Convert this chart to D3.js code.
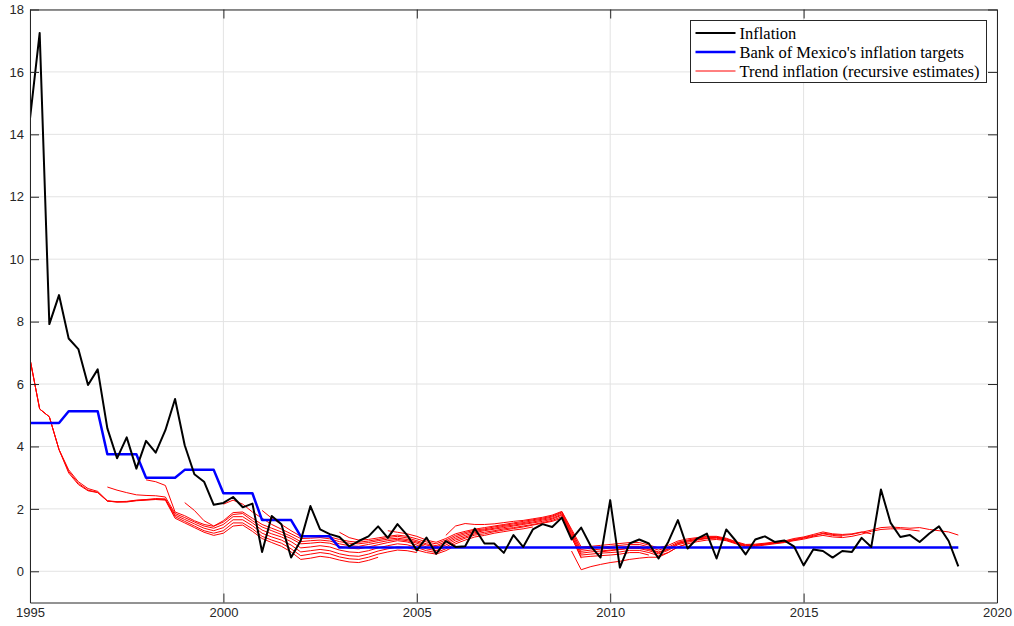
<!DOCTYPE html>
<html><head><meta charset="utf-8">
<script src="https://cdn.jsdelivr.net/npm/d3@7"></script>
<style>
html,body{margin:0;padding:0;background:#fff;}
svg{display:block;}
</style></head>
<body>
<svg id="chart" width="1014" height="626"></svg>
<script>
// ---- data (quarterly, starting 1995Q1) ----
const inflationStart = 1995.0;
const inflation = [
  14.5, 17.25, 7.92, 8.85,
  7.46, 7.12, 5.97, 6.47,
  4.58, 3.62, 4.29, 3.29,
  4.18, 3.80, 4.52, 5.52,
  4.04, 3.11, 2.87, 2.13,
  2.19, 2.38, 2.05, 2.17,
  0.62, 1.77, 1.51, 0.44,
  0.99, 2.09, 1.34, 1.19,
  1.10, 0.80, 0.97, 1.12,
  1.44, 1.07, 1.51, 1.16,
  0.67, 1.08, 0.56, 0.97,
  0.78, 0.80, 1.37, 0.89,
  0.89, 0.59, 1.16, 0.78,
  1.34, 1.51, 1.42, 1.72,
  1.02, 1.40, 0.80, 0.44,
  2.28, 0.12, 0.89, 1.02,
  0.89, 0.41, 0.94, 1.64,
  0.73, 1.05, 1.21, 0.41,
  1.34, 0.97, 0.54, 1.02,
  1.12, 0.94, 0.99, 0.80,
  0.19, 0.70, 0.65, 0.44,
  0.65, 0.62, 1.07, 0.78,
  2.62, 1.55, 1.10, 1.16,
  0.94, 1.21, 1.44, 0.97,
  0.16
];
const targetYears = [1995, 1996, 1997, 1998, 1999, 2000, 2001, 2002, 2003];
const targetValues = [4.75, 5.13, 3.75, 3.0, 3.25, 2.5, 1.64, 1.12, 0.76];
const targetEnd = 2019.0;

// recursive trend estimates: start year + quarterly values
const trend1Start = 1995.0;
const trend1 = [6.8,5.2,4.95,3.9, 3.15,2.78,2.58,2.52, 2.25,2.22,2.22,2.26, 2.28,2.3,2.28,1.7,
  1.55,1.4,1.25,1.15, 1.22,1.45,1.48,1.28, 1.05,0.92,0.8,0.62, 0.38,0.42,0.48,0.44,
  0.36,0.3,0.28,0.35, 0.45];
const trend2Start = 1995.0;
const trend2 = [6.8,5.2,4.95,3.9, 3.2,2.82,2.6,2.53, 2.25,2.22,2.23,2.27, 2.29,2.31,2.3,1.75,
  1.6,1.45,1.3,1.22, 1.3,1.55,1.55,1.36, 1.12,1.0,0.9,0.72, 0.5,0.55,0.6,0.56,
  0.46,0.4,0.38,0.45, 0.55,0.62,0.68,0.66, 0.6];
const trend3Start = 1995.0;
const trend3 = [6.8,5.2,4.95,3.9, 3.25,2.87,2.65,2.56, 2.26,2.23,2.24,2.28, 2.3,2.33,2.32,1.8,
  1.66,1.52,1.38,1.3, 1.4,1.65,1.65,1.46, 1.22,1.1,1.0,0.84, 0.62,0.66,0.7,0.66,
  0.56,0.5,0.48,0.55, 0.65,0.72,0.78,0.76, 0.68,0.6,0.55,0.66, 0.82];
const trend4Start = 1997.0;
const trend4 = [2.7,2.6,2.52,2.45, 2.43,2.42,2.38,1.85, 1.72,1.58,1.45,1.38, 1.5,1.75,1.75,1.55,
  1.32,1.2,1.1,0.95, 0.75,0.78,0.82,0.78, 0.68,0.62,0.6,0.66, 0.75,0.82,0.88,0.85,
  0.76,0.66,0.6,0.72, 0.88,1.0,1.1,1.15, 1.22,1.27,1.32,1.36, 1.42];
const trend5Start = 1998.0;
const trend5 = [2.93,2.87,2.75,1.9, 1.78,1.62,1.5,1.44, 1.58,1.82,1.85,1.62, 1.42,1.3,1.18,1.05,
  0.88,0.9,0.93,0.9, 0.8,0.74,0.72,0.78, 0.85,0.92,0.98,0.94, 0.84,0.72,0.66,0.78,
  0.94,1.06,1.16,1.2, 1.27,1.32,1.37,1.42, 1.48,1.54,1.6,1.7, 1.1,0.42];
const trend6Start = 1999.0;
const trend6 = [2.2,1.95,1.62,1.45, 1.62,1.88,1.9,1.7, 1.5,1.38,1.26,1.12, 0.95,0.98,1.0,0.97,
  0.88,0.82,0.8,0.86, 0.92,0.98,1.02,0.98, 0.9,0.78,0.72,0.84, 1.0,1.1,1.2,1.25,
  1.3,1.36,1.4,1.45, 1.5,1.56,1.63,1.75, 1.1,0.45,0.48,0.5, 0.52,0.55,0.6,0.6, 0.52];
const trend7Start = 2000.0;
const trend7 = [2.15,2.28,2.15,1.9, 1.7,1.5,1.35,1.2, 1.05,1.06,1.08,1.04, 0.95,0.9,0.88,0.92,
  0.98,1.03,1.06,1.02, 0.94,0.84,0.78,0.9, 1.05,1.15,1.24,1.3, 1.35,1.4,1.45,1.5,
  1.55,1.6,1.67,1.8, 1.15,0.52,0.55,0.58, 0.6,0.62,0.67,0.67, 0.6,0.5,0.6,0.78, 0.88];
const trend8Start = 2001.0;
const trend8 = [1.95,1.7,1.5,1.3, 1.12,1.14,1.15,1.1, 1.02,0.96,0.93,0.97, 1.02,1.08,1.12,1.07,
  0.98,0.88,0.82,0.95, 1.1,1.2,1.28,1.33, 1.38,1.44,1.48,1.53, 1.58,1.64,1.7,1.83,
  1.2,0.58,0.62,0.65, 0.68,0.7,0.74,0.73, 0.66,0.56,0.67,0.85, 0.93,1.0,1.05,1.06, 0.98];
const trend9Start = 2003.0;
const trend9 = [1.25,1.08,1.0,1.02, 1.07,1.12,1.16,1.12, 1.04,0.94,0.88,1.0, 1.15,1.24,1.32,1.36,
  1.42,1.47,1.52,1.56, 1.62,1.67,1.74,1.87, 1.25,0.64,0.68,0.71, 0.74,0.77,0.8,0.8,
  0.72,0.62,0.72,0.9, 0.97,1.03,1.07,1.09, 1.02,0.9,0.8,0.82, 0.86,0.9,0.93];
const trend10Start = 2004.25;
const trend10 = [1.3,1.25,1.2, 1.12,1.0,0.93,1.05, 1.2,1.28,1.35,1.4, 1.45,1.5,1.55,1.6,
  1.65,1.7,1.77,1.9, 1.3,0.7,0.74,0.77, 0.8,0.83,0.86,0.86, 0.78,0.68,0.77,0.93,
  1.0,1.06,1.1,1.1, 1.04,0.93,0.84,0.85, 0.88,0.92,0.95,1.02, 1.08,1.15,1.2,1.15, 1.12];
const trend11Start = 2005.75;
const trend11 = [1.15, 1.45,1.53,1.5,1.5, 1.52,1.56,1.6,1.63, 1.68,1.73,1.8,1.92,
  1.35,0.78,0.8,0.83, 0.86,0.89,0.92,0.92, 0.84,0.75,0.83,0.97, 1.04,1.08,1.12,1.12,
  1.06,0.95,0.86,0.87, 0.9,0.94,0.97,1.05, 1.1,1.18,1.26,1.2, 1.18,1.2,1.26,1.2];
const trend12Start = 2009.0;
const trend12 = [0.65,0.05,0.15,0.22, 0.28,0.32,0.38,0.42, 0.45,0.45,0.6,0.78, 0.88,0.95,1.0,1.02,
  0.98,0.88,0.78,0.8, 0.84,0.88,0.92,0.98, 1.03,1.1,1.15,1.1, 1.08,1.12,1.19,1.28,
  1.34,1.36,1.36,1.33, 1.29];
const trend13Start = 2009.75;
const trend13 = [0.62, 0.66,0.7,0.74,0.75, 0.7,0.6,0.7,0.88, 0.97,1.02,1.06,1.08,
  1.0,0.9,0.82,0.84, 0.87,0.9,0.94,1.0, 1.06,1.12,1.22,1.18, 1.15,1.18,1.25,1.32,
  1.4,1.42,1.4,1.38, 1.4,1.34,1.3,1.26, 1.16];

const trendSeries = [
  [trend1Start, trend1], [trend2Start, trend2], [trend3Start, trend3], [trend4Start, trend4],
  [trend5Start, trend5], [trend6Start, trend6], [trend7Start, trend7], [trend8Start, trend8],
  [trend9Start, trend9], [trend10Start, trend10], [trend11Start, trend11], [trend12Start, trend12],
  [trend13Start, trend13]
];

const xTicks = [1995, 2000, 2005, 2010, 2015, 2020];
const yTicks = [0, 2, 4, 6, 8, 10, 12, 14, 16, 18];
const legendLabels = ["Inflation", "Bank of Mexico's inflation targets", "Trend inflation (recursive estimates)"];

// ---- drawing ----
(function () {
const svg = d3.select("#chart");
const pL = 30, pR = 997, pT = 9.5, pB = 602.5;
const x = d3.scaleLinear().domain([1995, 2020]).range([pL, pR]);
const y = d3.scaleLinear().domain([-1, 18]).range([pB, pT]);

const axisColor = "#262626";
const gridColor = "#e3e3e3";

const g = svg.append("g");
g.selectAll("line.gx").data(xTicks).enter().append("line")
  .attr("x1", d => x(d)).attr("x2", d => x(d)).attr("y1", pT).attr("y2", pB)
  .attr("stroke", gridColor).attr("stroke-width", 1);
g.selectAll("line.gy").data(yTicks).enter().append("line")
  .attr("y1", d => y(d)).attr("y2", d => y(d)).attr("x1", pL).attr("x2", pR)
  .attr("stroke", gridColor).attr("stroke-width", 1);

const toPts = (start, vals) => vals.map((v, i) => [start + i * 0.25, v]);
const line = d3.line().x(d => x(d[0])).y(d => y(d[1]));

svg.append("clipPath").attr("id", "clip").append("rect")
  .attr("x", pL).attr("y", pT).attr("width", pR - pL).attr("height", pB - pT);
const plot = svg.append("g").attr("clip-path", "url(#clip)");

trendSeries.forEach(([s, vals]) => {
  plot.append("path").datum(toPts(s, vals)).attr("d", line)
    .attr("fill", "none").attr("stroke", "#ff0000").attr("stroke-width", 1)
    .attr("stroke-linejoin", "round");
});

const targetPts = [];
targetYears.forEach((yr, i) => {
  const next = i < targetYears.length - 1 ? targetYears[i + 1] : targetEnd + 0.25;
  for (let t = yr; t < next - 1e-9 && t <= targetEnd + 1e-9; t += 0.25) targetPts.push([t, targetValues[i]]);
});
plot.append("path").datum(targetPts).attr("d", line)
  .attr("fill", "none").attr("stroke", "#0000ff").attr("stroke-width", 2.5)
  .attr("stroke-linejoin", "round");

plot.append("path").datum(toPts(inflationStart, inflation)).attr("d", line)
  .attr("fill", "none").attr("stroke", "#000").attr("stroke-width", 2)
  .attr("stroke-linejoin", "round");

const fontSans = "'Liberation Sans', Arial, Helvetica, sans-serif";
const axB = svg.append("g").attr("transform", `translate(0,${pB})`)
  .call(d3.axisBottom(x).tickValues(xTicks).tickFormat(d3.format("d")).tickSizeInner(-9).tickSizeOuter(0).tickPadding(5));
const axT = svg.append("g").attr("transform", `translate(0,${pT})`)
  .call(d3.axisTop(x).tickValues(xTicks).tickFormat("").tickSizeInner(-9).tickSizeOuter(0));
const axL = svg.append("g").attr("transform", `translate(${pL},0)`)
  .call(d3.axisLeft(y).tickValues(yTicks).tickSizeInner(-9).tickSizeOuter(0).tickPadding(6));
const axR = svg.append("g").attr("transform", `translate(${pR},0)`)
  .call(d3.axisRight(y).tickValues(yTicks).tickFormat("").tickSizeInner(-9).tickSizeOuter(0));
[axB, axT, axL, axR].forEach(a => {
  a.selectAll("path.domain").attr("stroke", axisColor).attr("stroke-width", 1);
  a.selectAll(".tick line").attr("stroke", axisColor).attr("stroke-width", 1);
  a.selectAll(".tick text").attr("fill", axisColor).style("font-family", fontSans).style("font-size", "13px");
});

const lg = svg.append("g");
const lx = 690.5, ly = 20.5, lw = 296, lh = 62;
lg.append("rect").attr("x", lx).attr("y", ly).attr("width", lw).attr("height", lh)
  .attr("fill", "#fff").attr("stroke", axisColor).attr("stroke-width", 1);
const legColors = ["#000", "#0000ff", "#ff0000"];
const legWidths = [2, 2.5, 1];
legendLabels.forEach((lab, i) => {
  const yy = ly + 12.5 + i * 19;
  lg.append("line").attr("x1", lx + 5).attr("x2", lx + 45).attr("y1", yy).attr("y2", yy)
    .attr("stroke", legColors[i]).attr("stroke-width", legWidths[i]);
  lg.append("text").attr("x", lx + 49).attr("y", yy).attr("dy", "0.35em")
    .style("font-family", "'Liberation Serif', 'Times New Roman', serif").style("font-size", "16.5px")
    .attr("fill", "#000").text(lab);
});
})();
</script>
</body></html>
